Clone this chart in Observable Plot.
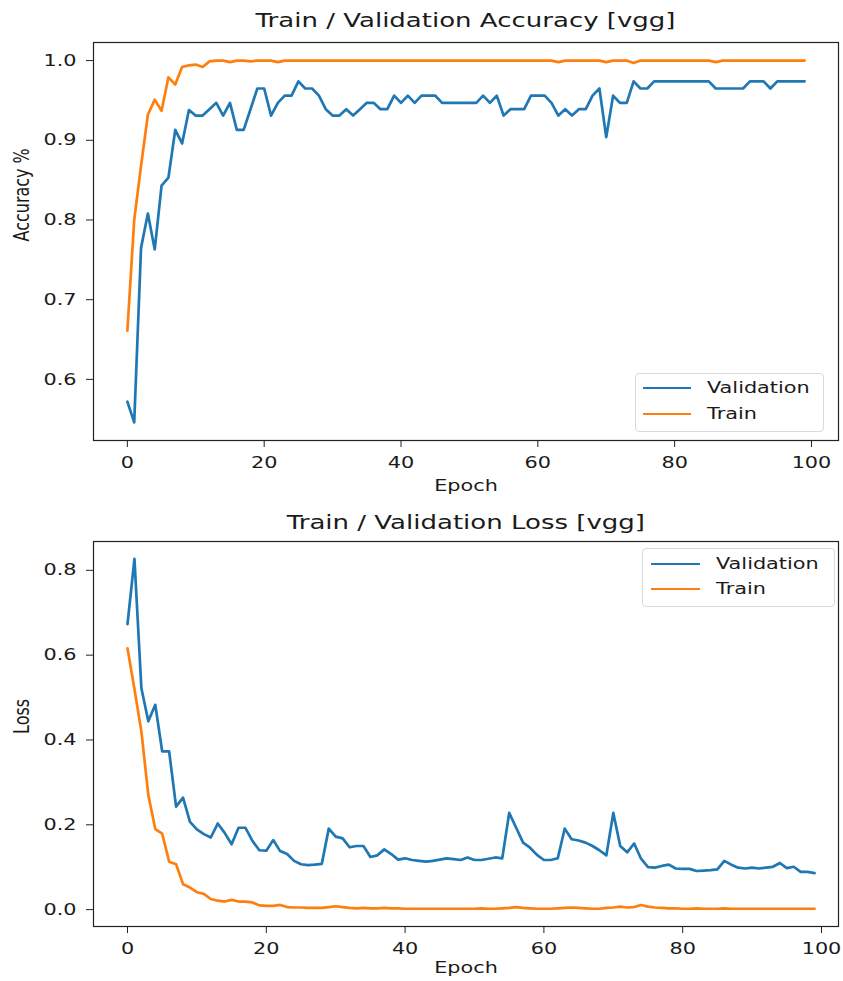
<!DOCTYPE html>
<html><head><meta charset="utf-8">
<script src="https://cdn.jsdelivr.net/npm/d3@7"></script>
<script src="https://cdn.jsdelivr.net/npm/@observablehq/plot@0.6"></script>
<style>
body{margin:0;background:#fff;font-family:"DejaVu Sans",sans-serif;color:#111}
#root{position:relative;width:843px;height:981px;overflow:hidden;background:#fff}
.title{position:absolute;left:93px;width:745px;text-align:center;font-size:20px;line-height:24px;white-space:nowrap;color:#1a1a1a}
.title span{display:inline-block;transform:scaleX(1.3);transform-origin:center}
.panel{position:absolute;left:0}
.legend{position:absolute;border:1px solid #d9d9d9;border-radius:4px;background:rgba(255,255,255,0.85);box-sizing:border-box}
.legend .ln{position:absolute;height:2.7px}
.legend .tx{position:absolute;font-size:16px;line-height:20px;white-space:nowrap;transform:scaleX(1.3);transform-origin:left center;color:#1a1a1a}
</style>
</head><body>
<div id="root"></div>
<script>
// ---------- data ----------
const xTicks = [0, 20, 40, 60, 80, 100];
const accTicks = [0.6, 0.7, 0.8, 0.9, 1.0];
const lossTicks = [0.0, 0.2, 0.4, 0.6, 0.8];
const seriesNames = ["Validation", "Train"];

const valAcc = [0.572,0.546,0.765,0.808,0.763,0.843,0.853,0.913,0.896,0.938,
 0.931,0.931,0.939,0.947,0.931,0.947,0.913,0.913,0.939,0.965,
 0.965,0.931,0.947,0.956,0.956,0.974,0.965,0.965,0.956,0.939,
 0.931,0.931,0.939,0.931,0.939,0.947,0.947,0.939,0.939,0.956,
 0.947,0.956,0.947,0.956,0.956,0.956,0.947,0.947,0.947,0.947,
 0.947,0.947,0.956,0.947,0.956,0.931,0.939,0.939,0.939,0.956,
 0.956,0.956,0.947,0.931,0.939,0.931,0.939,0.939,0.956,0.965,
 0.904,0.956,0.947,0.947,0.974,0.965,0.965,0.974,0.974,0.974,
 0.974,0.974,0.974,0.974,0.974,0.974,0.965,0.965,0.965,0.965,
 0.965,0.974,0.974,0.974,0.965,0.974,0.974,0.974,0.974,0.974];

const trainAcc = [0.661,0.800,0.868,0.932,0.951,0.937,0.979,0.970,0.992,0.994,
 0.995,0.992,0.999,1.000,1.000,0.998,1.000,1.000,0.999,1.000,
 1.000,1.000,0.998,1.000,1.000,1.000,1.000,1.000,1.000,1.000,
 1.000,1.000,1.000,1.000,1.000,1.000,1.000,1.000,1.000,1.000,
 1.000,1.000,1.000,1.000,1.000,1.000,1.000,1.000,1.000,1.000,
 1.000,1.000,1.000,1.000,1.000,1.000,1.000,1.000,1.000,1.000,
 1.000,1.000,1.000,0.998,1.000,1.000,1.000,1.000,1.000,1.000,
 0.998,1.000,1.000,1.000,0.997,1.000,1.000,1.000,1.000,1.000,
 1.000,1.000,1.000,1.000,1.000,1.000,0.998,1.000,1.000,1.000,
 1.000,1.000,1.000,1.000,1.000,1.000,1.000,1.000,1.000,1.000];

const valLoss = [0.673,0.827,0.522,0.444,0.483,0.373,0.373,0.243,0.264,0.207,
 0.189,0.178,0.170,0.203,0.181,0.154,0.193,0.193,0.162,0.140,
 0.139,0.164,0.138,0.131,0.115,0.107,0.105,0.106,0.108,0.191,
 0.172,0.168,0.147,0.150,0.150,0.124,0.128,0.142,0.131,0.118,
 0.121,0.117,0.115,0.113,0.115,0.118,0.121,0.119,0.117,0.123,
 0.117,0.117,0.120,0.123,0.121,0.228,0.193,0.158,0.146,0.129,
 0.117,0.117,0.121,0.191,0.166,0.163,0.158,0.150,0.140,0.128,
 0.228,0.150,0.135,0.156,0.120,0.100,0.099,0.103,0.106,0.097,
 0.096,0.096,0.091,0.092,0.093,0.095,0.115,0.106,0.099,0.097,
 0.099,0.097,0.099,0.101,0.110,0.098,0.101,0.089,0.089,0.086];

const trainLoss = [0.616,0.520,0.420,0.270,0.190,0.179,0.113,0.107,0.060,0.052,
 0.041,0.037,0.025,0.021,0.019,0.023,0.019,0.019,0.017,0.010,
 0.009,0.009,0.011,0.006,0.005,0.005,0.004,0.004,0.004,0.006,
 0.008,0.006,0.004,0.003,0.004,0.003,0.003,0.004,0.003,0.003,
 0.002,0.002,0.002,0.002,0.002,0.002,0.002,0.002,0.002,0.002,
 0.002,0.003,0.002,0.002,0.003,0.004,0.006,0.004,0.003,0.002,
 0.002,0.002,0.003,0.004,0.005,0.004,0.003,0.002,0.002,0.004,
 0.005,0.007,0.005,0.006,0.011,0.007,0.005,0.004,0.003,0.003,
 0.002,0.002,0.003,0.002,0.002,0.002,0.003,0.002,0.002,0.002,
 0.002,0.002,0.002,0.002,0.002,0.002,0.002,0.002,0.002,0.002];

const colors = {Validation: "#1f77b4", Train: "#ff7f0e"};
const STRETCH = 1.3;

// ---------- helpers ----------
function rows(vals) { return vals.map((v, i) => ({epoch: i, value: v})); }

function stretchText(svg, k) {
  svg.querySelectorAll("text").forEach(t => {
    const tr = t.getAttribute("transform") || "";
    const x = parseFloat(t.getAttribute("x")) || 0;
    if (/rotate/.test(tr)) t.setAttribute("transform", tr + ` scale(1,${k})`);
    else t.setAttribute("transform", `${tr} translate(${x},0) scale(${k},1) translate(${-x},0)`);
  });
}

function panel({val, train, yDomain, xDomain, yTicks, yLabel, height, marginTop, marginBottom, labelDy}) {
  const svg = Plot.plot({
    width: 843, height, marginLeft: 93, marginRight: 5, marginTop, marginBottom,
    style: {fontFamily: "DejaVu Sans", fontSize: "16px", color: "#1a1a1a", background: "transparent", overflow: "visible"},
    x: {domain: xDomain},
    y: {domain: yDomain},
    marks: [
      Plot.line(rows(val), {x: "epoch", y: "value", stroke: colors.Validation, strokeWidth: 2.7}),
      Plot.line(rows(train), {x: "epoch", y: "value", stroke: colors.Train, strokeWidth: 2.7}),
      Plot.frame({stroke: "#222", strokeWidth: 1.2}),
      Plot.axisX(xTicks, {tickSize: 7, tickPadding: 9, label: null, tickFormat: d => String(d), stroke: "#222"}),
      Plot.axisY(yTicks, {tickSize: 7, tickPadding: 10, label: null, tickFormat: d3.format(".1f"), stroke: "#222"}),
      Plot.text(["Epoch"], {frameAnchor: "bottom", dy: labelDy, text: d => d, fontSize: 16}),
      Plot.text([yLabel], {frameAnchor: "left", dx: -71, rotate: -90, text: d => d, fontSize: 16})
    ]
  });
  stretchText(svg, STRETCH);
  return svg;
}

function addDiv(cls, style, html) {
  const d = document.createElement("div");
  d.className = cls;
  Object.assign(d.style, style);
  if (html != null) d.innerHTML = html;
  document.getElementById("root").appendChild(d);
  return d;
}

function legend(left, top, width, height, lineLeft, lineW, textLeft, y1, y2) {
  const lg = addDiv("legend", {left: left + "px", top: top + "px", width: width + "px", height: height + "px"});
  [y1, y2].forEach((yy, i) => {
    const name = seriesNames[i];
    const ln = document.createElement("div");
    ln.className = "ln";
    Object.assign(ln.style, {left: lineLeft + "px", width: lineW + "px", top: (yy - 1.35) + "px", background: colors[name]});
    lg.appendChild(ln);
    const tx = document.createElement("div");
    tx.className = "tx";
    Object.assign(tx.style, {left: textLeft + "px", top: (yy - 10) + "px"});
    tx.textContent = name;
    lg.appendChild(tx);
  });
}

// ---------- layout ----------
addDiv("title", {top: "8px"}, "<span>Train / Validation Accuracy [vgg]</span>");
const p1 = addDiv("panel", {top: "35px"});
p1.appendChild(panel({val: valAcc, train: trainAcc, yDomain: [0.5233, 1.0227], xDomain: [-4.95, 103.95],
  yTicks: accTicks, yLabel: "Accuracy %", height: 470, marginTop: 7, marginBottom: 65, labelDy: 50}));
legend(635, 373, 189, 59, 7, 48, 71, 14, 40);

addDiv("title", {top: "510px"}, "<span>Train / Validation Loss [vgg]</span>");
const p2 = addDiv("panel", {top: "532px"});
p2.appendChild(panel({val: valLoss, train: trainLoss, yDomain: [-0.0398, 0.868], xDomain: [-4.9, 102.45],
  yTicks: lossTicks, yLabel: "Loss", height: 449, marginTop: 9, marginBottom: 55, labelDy: 46}));
legend(642, 548, 193, 59, 8, 49, 73, 15, 40);
</script>
</body></html>
